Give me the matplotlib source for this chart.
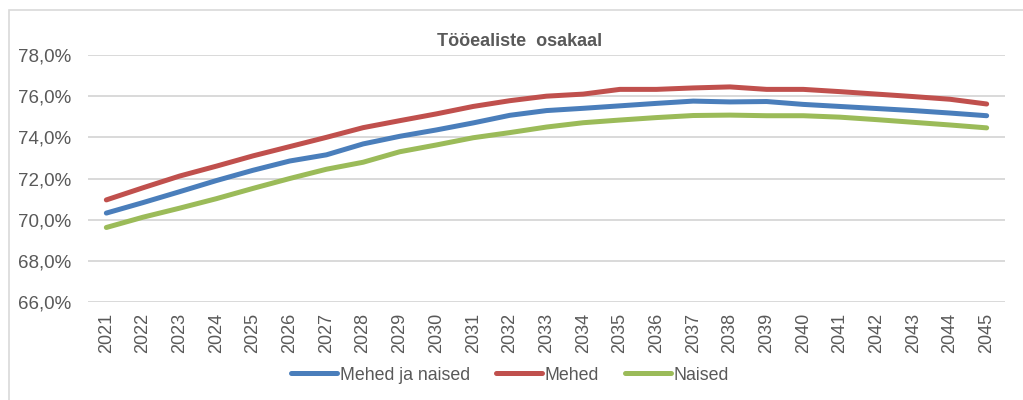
import matplotlib.pyplot as plt
from matplotlib.patches import Rectangle
from matplotlib.ticker import FuncFormatter

plt.rcParams['font.family'] = ['Liberation Sans', 'DejaVu Sans']

# data (%)
years = [str(y) for y in range(2021, 2046)]
koik = [70.32, 70.83, 71.36, 71.9, 72.4, 72.85, 73.15, 73.68, 74.05, 74.36,
        74.7, 75.07, 75.3, 75.41, 75.53, 75.65, 75.76, 75.72, 75.74, 75.6,
        75.5, 75.4, 75.3, 75.18, 75.05]
mehed = [70.96, 71.55, 72.12, 72.6, 73.1, 73.55, 74.0, 74.47, 74.81, 75.14,
         75.5, 75.78, 76.0, 76.1, 76.33, 76.33, 76.4, 76.45, 76.33, 76.33,
         76.22, 76.1, 75.98, 75.85, 75.62]
naised = [69.62, 70.12, 70.56, 71.02, 71.52, 72.0, 72.45, 72.79, 73.3, 73.63,
          73.98, 74.23, 74.5, 74.71, 74.84, 74.96, 75.06, 75.08, 75.05, 75.05,
          74.98, 74.86, 74.73, 74.6, 74.46]
labels = ['Mehed ja naised', 'Mehed', 'Naised']
colors = ['#4A7EBB', '#C0504D', '#9BBB59']

fig = plt.figure(figsize=(10.23, 4), dpi=100)
# light grey chart frame, cropped at right/bottom like in the source
fig.patches.append(Rectangle((9 / 1023, -0.1), 1.2, 1 - 10 / 400 + 0.1,
                             transform=fig.transFigure, fill=False,
                             edgecolor='#D9D9D9', linewidth=1.2))

ax = fig.add_axes([88 / 1023, 1 - 302 / 400, (1005 - 88) / 1023, (302 - 55) / 400])
x = range(len(years))
for vals, lab, col in zip([koik, mehed, naised], labels, colors):
    ax.plot(x, vals, color=col, linewidth=3.6, label=lab, solid_capstyle='round')

ax.set_xlim(-0.5, len(years) - 0.5)
ax.set_ylim(66, 78)
ax.set_yticks([66, 68, 70, 72, 74, 76, 78])
ax.yaxis.set_major_formatter(FuncFormatter(lambda v, p: f'{v:.1f}%'.replace('.', ',')))
ax.set_xticks(list(x))
ax.set_xticklabels(years, rotation=90)
ax.tick_params(length=0, colors='#595959')
ax.tick_params(axis='y', labelsize=13.5, pad=12)
ax.tick_params(axis='x', labelsize=13, pad=8)
ax.grid(axis='y', color='#D9D9D9', linewidth=1.4)
ax.set_axisbelow(True)
for s in ax.spines.values():
    s.set_visible(False)

fig.text(520 / 1023, 1 - 42 / 400, 'Tööealiste  osakaal', ha='center', va='center',
         fontsize=13, fontweight='bold', color='#595959')

fig.legend(loc='center', bbox_to_anchor=(510 / 1023, 1 - 375 / 400), ncol=3,
           frameon=False, fontsize=12.8, handlelength=2.6, handletextpad=0.15,
           columnspacing=1.45, labelcolor='#595959')

fig.savefig('out.png', dpi=100)
